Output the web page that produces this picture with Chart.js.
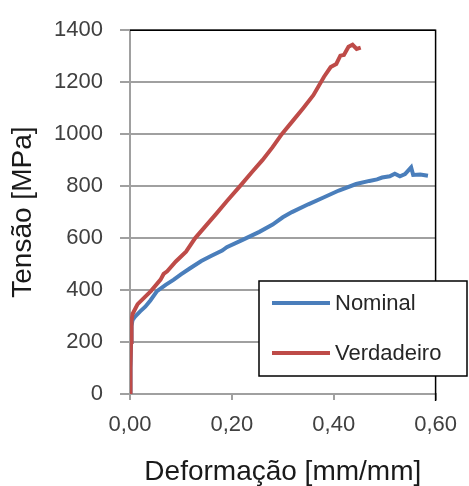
<!DOCTYPE html>
<html>
<head>
<meta charset="utf-8">
<script src="https://cdn.jsdelivr.net/npm/chart.js@4/dist/chart.umd.min.js"></script>
<style>
  html, body { margin: 0; padding: 0; background: #fff; }
  #wrap { width: 469px; height: 486px; position: relative; }
</style>
</head>
<body>
<div id="wrap"><canvas id="c" width="469" height="486"></canvas></div>
<script>
// Strain [mm/mm] and stress [MPa] pairs for each curve
const nominalStrain = [0, 0.001, 0.002, 0.003, 0.005, 0.010, 0.020, 0.030, 0.040, 0.053, 0.070, 0.086, 0.100, 0.118, 0.140, 0.160, 0.181, 0.190, 0.220, 0.254, 0.280, 0.300, 0.318, 0.350, 0.381, 0.410, 0.444, 0.470, 0.485, 0.495, 0.510, 0.520, 0.530, 0.540, 0.552, 0.556, 0.570, 0.585];
const nominalStress = [0, 100, 200, 262, 285, 298, 318, 336, 360, 396, 420, 440, 460, 484, 512, 532, 552, 565, 592, 624, 652, 680, 700, 730, 757, 783, 808, 820, 826, 833, 838, 848, 838, 846, 872, 843, 845, 840];

const trueStrain = [0, 0.001, 0.002, 0.003, 0.005, 0.015, 0.030, 0.041, 0.060, 0.066, 0.073, 0.090, 0.110, 0.128, 0.150, 0.170, 0.190, 0.216, 0.240, 0.260, 0.280, 0.298, 0.320, 0.340, 0.360, 0.381, 0.394, 0.405, 0.413, 0.420, 0.429, 0.437, 0.445, 0.453];
const trueStress = [0, 100, 200, 282, 308, 346, 375, 396, 440, 462, 472, 510, 548, 600, 650, 695, 742, 800, 855, 900, 950, 1000, 1052, 1100, 1150, 1221, 1258, 1270, 1302, 1305, 1336, 1344, 1328, 1333];

const seriesNames = ['Nominal', 'Verdadeiro'];
const seriesColors = ['#4A7EBB', '#BE4B48'];

const xTickValues = [0, 0.2, 0.4, 0.6];
const xTickLabels = ['0,00', '0,20', '0,40', '0,60'];
const yTickValues = [0, 200, 400, 600, 800, 1000, 1200, 1400];
const yTickLabels = ['0', '200', '400', '600', '800', '1000', '1200', '1400'];

const xTitle = 'Deformação [mm/mm]';
const yTitle = 'Tensão [MPa]';

function pairs(xs, ys) { return xs.map((x, i) => ({ x: x, y: ys[i] })); }
function labelFor(values, labels, value) {
  const i = values.findIndex(v => Math.abs(v - value) < 1e-9);
  return i >= 0 ? labels[i] : '';
}

const fontFamily = '"Liberation Sans", Arial, sans-serif';

// Plot-area frame (top/right in black) and the boxed legend
const framePlugin = {
  id: 'frameAndLegend',
  afterDraw(chart) {
    const ctx = chart.ctx;
    const a = chart.chartArea;
    ctx.save();
    ctx.strokeStyle = '#000';
    ctx.lineWidth = 1.5;
    ctx.beginPath();
    ctx.moveTo(a.left, a.top);
    ctx.lineTo(a.right, a.top);
    ctx.lineTo(a.right, a.bottom + 7);
    ctx.stroke();

    // legend box
    const bx = 259, by = 281, bw = 208, bh = 95;
    ctx.fillStyle = '#fff';
    ctx.fillRect(bx, by, bw, bh);
    ctx.lineWidth = 1.5;
    ctx.strokeStyle = '#000';
    ctx.strokeRect(bx, by, bw, bh);
    const rowsY = [by + 22, by + 72];
    chart.data.datasets.forEach((ds, i) => {
      ctx.strokeStyle = ds.borderColor;
      ctx.lineWidth = 4;
      ctx.beginPath();
      ctx.moveTo(bx + 13, rowsY[i]);
      ctx.lineTo(bx + 71, rowsY[i]);
      ctx.stroke();
      ctx.fillStyle = '#262626';
      ctx.font = '22px ' + fontFamily;
      ctx.textAlign = 'left';
      ctx.textBaseline = 'middle';
      ctx.fillText(ds.label, bx + 76, rowsY[i] + 1);
    });
    ctx.restore();
  }
};

new Chart(document.getElementById('c'), {
  type: 'scatter',
  data: {
    datasets: [
      {
        label: seriesNames[0],
        data: pairs(nominalStrain, nominalStress),
        showLine: true,
        borderColor: seriesColors[0],
        backgroundColor: seriesColors[0],
        borderWidth: 4,
        pointRadius: 0,
        tension: 0,
        order: 1
      },
      {
        label: seriesNames[1],
        data: pairs(trueStrain, trueStress),
        showLine: true,
        borderColor: seriesColors[1],
        backgroundColor: seriesColors[1],
        borderWidth: 4,
        pointRadius: 0,
        tension: 0,
        order: 0
      }
    ]
  },
  options: {
    responsive: false,
    animation: false,
    layout: { padding: { left: 0, right: 24, top: 26, bottom: 0 } },
    plugins: {
      legend: { display: false },
      tooltip: { enabled: false }
    },
    scales: {
      x: {
        type: 'linear',
        min: 0,
        max: 0.6,
        afterBuildTicks(scale) { scale.ticks = xTickValues.map(v => ({ value: v })); },
        afterFit(scale) { scale.height = 92; },
        ticks: {
          autoSkip: false,
          maxRotation: 0,
          padding: 12,
          color: '#404040',
          font: { family: fontFamily, size: 22 },
          callback(value) { return labelFor(xTickValues, xTickLabels, value); }
        },
        grid: {
          drawOnChartArea: false,
          drawTicks: true,
          tickLength: 6,
          color: '#a0a0a0',
          lineWidth: 2
        },
        border: { color: '#a0a0a0', width: 2 },
        title: {
          display: true,
          text: xTitle,
          color: '#1a1a1a',
          font: { family: fontFamily, size: 28, lineHeight: 1 },
          padding: { top: 0, bottom: 0 }
        }
      },
      y: {
        type: 'linear',
        min: 0,
        max: 1400,
        afterBuildTicks(scale) { scale.ticks = yTickValues.map(v => ({ value: v })); },
        afterFit(scale) { scale.width = 130; },
        ticks: {
          padding: 17,
          color: '#404040',
          font: { family: fontFamily, size: 22 },
          callback(value) { return labelFor(yTickValues, yTickLabels, value); }
        },
        grid: {
          drawTicks: true,
          tickLength: 10,
          color: '#a0a0a0',
          lineWidth: 2
        },
        border: { color: '#a0a0a0', width: 2 },
        title: {
          display: true,
          text: yTitle,
          color: '#1a1a1a',
          font: { family: fontFamily, size: 28, lineHeight: 1.2 },
          padding: { top: 6, bottom: 0 }
        }
      }
    }
  },
  plugins: [framePlugin]
});
</script>
</body>
</html>
